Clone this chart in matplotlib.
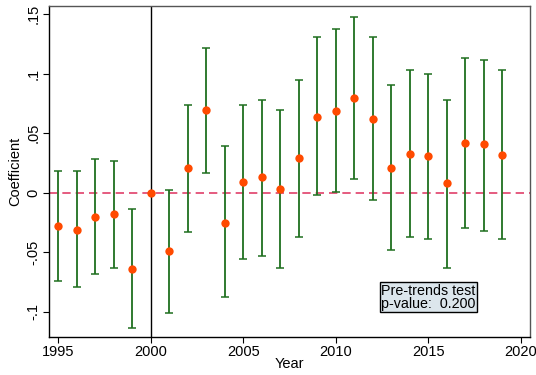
import matplotlib
matplotlib.use("Agg")
import matplotlib.pyplot as plt
import numpy as np

plt.rcParams['font.family'] = ['Liberation Sans', 'DejaVu Sans']

years = [1995, 1996, 1997, 1998, 1999, 2000, 2001, 2002, 2003, 2004, 2005, 2006, 2007,
         2008, 2009, 2010, 2011, 2012, 2013, 2014, 2015, 2016, 2017, 2018, 2019]
coef = [-0.028, -0.031, -0.020, -0.018, -0.064, 0.000, -0.049, 0.021, 0.070, -0.025, 0.009,
        0.013, 0.003, 0.029, 0.064, 0.069, 0.080, 0.062, 0.021, 0.033, 0.031, 0.008, 0.042,
        0.041, 0.032]
ci_low = [-0.074, -0.079, -0.068, -0.063, -0.114, np.nan, -0.101, -0.033, 0.017, -0.088, -0.056,
          -0.053, -0.063, -0.037, -0.002, 0.001, 0.012, -0.006, -0.048, -0.037, -0.039, -0.063,
          -0.030, -0.032, -0.039]
ci_high = [0.018, 0.018, 0.028, 0.027, -0.014, np.nan, 0.002, 0.074, 0.122, 0.039, 0.074,
           0.078, 0.070, 0.095, 0.131, 0.138, 0.148, 0.131, 0.091, 0.103, 0.100, 0.078, 0.113,
           0.112, 0.103]
xticks = [1995, 2000, 2005, 2010, 2015, 2020]
yticks = [-0.1, -0.05, 0, 0.05, 0.1, 0.15]
yticklabels = ['-.1', '-.05', '0', '.05', '.1', '.15']

fig = plt.figure(figsize=(5.36, 3.75), dpi=100)
ax = fig.add_axes([0.0914, 0.102, 0.8974, 0.882])

yr = np.array(years)
c = np.array(coef)
lo = np.array(ci_low)
hi = np.array(ci_high)
mask = ~np.isnan(lo)

ax.axhline(0, color='#e0406a', linestyle=(0, (5, 3)), linewidth=1.2, zorder=1)
ax.axvline(2000, color='black', linewidth=1.0, zorder=1)

ax.errorbar(yr[mask], c[mask], yerr=[c[mask] - lo[mask], hi[mask] - c[mask]],
            fmt='none', ecolor='#1f6f1f', elinewidth=1.3, capsize=3, capthick=1.1, zorder=2)
ax.plot(yr, c, 'o', color='#ff4a00', markersize=6, markeredgewidth=0, zorder=3)

ax.set_xlim(1994.5, 2020.5)
ax.set_ylim(-0.121, 0.157)
ax.set_xticks(xticks)
ax.set_xticklabels([str(x) for x in xticks], fontsize=10.5)
ax.set_yticks(yticks)
ax.set_yticklabels(yticklabels, fontsize=10.5, rotation=90, va='center')
ax.tick_params(direction='out', length=4, width=0.8, pad=2)
ax.set_xlabel('Year', fontsize=10.5, va='top')
ax.xaxis.set_label_coords(0.5, -0.062)
ax.set_ylabel('Coefficient', fontsize=10.5, labelpad=3)

for s in ['top', 'right']:
    ax.spines[s].set_color('#555555')
for s in ax.spines.values():
    s.set_linewidth(1.0)

ax.text(2015, -0.088, 'Pre-trends test\np-value:  0.200', ha='center', va='center', fontsize=10.3,
        linespacing=0.92,
        bbox=dict(boxstyle='square,pad=0.1', facecolor='#dce6ec', edgecolor='black', linewidth=1))

fig.savefig('out.png', dpi=100)
